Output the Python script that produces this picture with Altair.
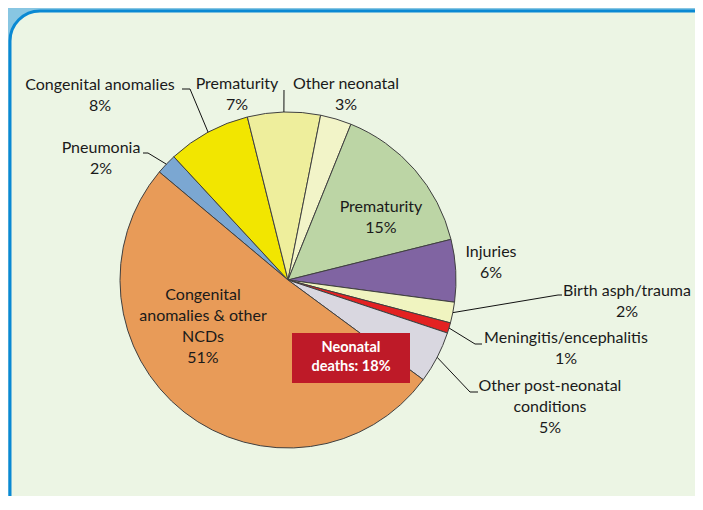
import math
import altair as alt
import pandas as pd

# ---- data (clockwise, starting with Pneumonia) ----
slice_names = ["Pneumonia", "Congenital anomalies", "Prematurity", "Other neonatal",
               "Prematurity", "Injuries", "Birth asph/trauma", "Meningitis/encephalitis",
               "Other post-neonatal conditions", "Congenital anomalies & other NCDs"]
slice_values = [2, 8, 7, 3, 15, 6, 2, 1, 5, 51]
slice_colors = ["#7BA7D2", "#F2E600", "#EEEE9C", "#F2F4C8", "#BCD5A5",
                "#8064A2", "#F0F4C0", "#E32222", "#D9D7E0", "#E89B58"]

# label text lines (one row per line)
label_lines = [
    ["Pneumonia", "2%"],
    ["Congenital anomalies", "8%"],
    ["Prematurity", "7%"],
    ["Other neonatal", "3%"],
    ["Prematurity", "15%"],
    ["Injuries", "6%"],
    ["Birth asph/trauma", "2%"],
    ["Meningitis/encephalitis", "1%"],
    ["Other post-neonatal", "conditions", "5%"],
    ["Congenital", "anomalies & other", "NCDs", "51%"],
]
box_lines = ["Neonatal", "deaths: 18%"]

# ---- layout (pixels, chart coordinates) ----
CX, CY, R = 280, 272, 168
START = math.radians(310)
label_pos = [(93, 140), (92, 77), (229, 76), (338, 76), (373, 199),
             (483, 244), (619, 283), (558, 330), (542, 378), (195, 287)]
line_step = 21
leader_elbow = [(140, 145), (182, 81), (276, 82), None, None,
                None, (550, 287), (467, 336), (462, 384), None]
leader_end = [(135, 145), (174, 81), (276, 82), None, None,
              None, (554, 287), (474, 336), (470, 384), None]
box_rect = (284, 325, 402, 375)

FONT = "Lato"

keys = [f"s{i}" for i in range(len(slice_names))]
df = pd.DataFrame({
    "idx": list(range(len(slice_names))),
    "key": keys,
    "name": slice_names,
    "value": slice_values,
})

# background panel
panel = alt.Chart(pd.DataFrame({"a": [0]})).mark_rect(
    fill="#ECF5E4", stroke="#0A89D3", strokeWidth=3, cornerRadius=30, clip=True
).encode(x=alt.value(2), x2=alt.value(720), y=alt.value(3), y2=alt.value(540))

pie = alt.Chart(df).mark_arc(
    outerRadius=R, stroke="#404040", strokeWidth=1
).encode(
    theta=alt.Theta("value:Q", stack=True,
                    scale=alt.Scale(domain=[0, 100], range=[START, START + 2 * math.pi])),
    order=alt.Order("idx:Q"),
    color=alt.Color("key:N", scale=alt.Scale(domain=keys, range=slice_colors), legend=None),
    x=alt.value(CX), y=alt.value(CY),
)

# leader lines: start point computed from the data (slice mid-angle on the rim)
lead_rows = []
for i, (e, t) in enumerate(zip(leader_elbow, leader_end)):
    if e is None:
        continue
    lead_rows.append({"idx": i, "bx": e[0], "by": e[1], "tx": t[0], "ty": t[1]})
lead_df = df.merge(pd.DataFrame(lead_rows), on="idx", how="left")

lead_base = alt.Chart(lead_df).transform_window(
    cum="sum(value)", sort=[alt.SortField("idx")], frame=[None, 0]
).transform_calculate(
    ang=f"{START} + (datum.cum - datum.value/2)/100*2*PI",
    ex=f"{CX} + {R}*sin(datum.ang)",
    ey=f"{CY} - {R}*cos(datum.ang)",
).transform_filter("isValid(datum.bx)")

seg1 = lead_base.mark_rule(color="#111111", strokeWidth=1).encode(
    x=alt.X("ex:Q", scale=None), y=alt.Y("ey:Q", scale=None),
    x2="bx:Q", y2="by:Q")
seg2 = lead_base.mark_rule(color="#111111", strokeWidth=1).encode(
    x=alt.X("bx:Q", scale=None), y=alt.Y("by:Q", scale=None),
    x2="tx:Q", y2="ty:Q")

# labels
rows = []
for i, lines in enumerate(label_lines):
    x0, y0 = label_pos[i]
    for j, ln in enumerate(lines):
        rows.append({"t": ln, "px": x0, "py": y0 + j * line_step})
labels = alt.Chart(pd.DataFrame(rows)).mark_text(
    font=FONT, fontSize=16, color="#1A1A1A", align="center", baseline="middle"
).encode(x=alt.X("px:Q", scale=None), y=alt.Y("py:Q", scale=None), text="t:N")

box = alt.Chart(pd.DataFrame({"a": [0]})).mark_rect(fill="#BE1A28").encode(
    x=alt.value(box_rect[0]), x2=alt.value(box_rect[2]),
    y=alt.value(box_rect[1]), y2=alt.value(box_rect[3]))
bx_c = (box_rect[0] + box_rect[2]) / 2
box_df = pd.DataFrame({"t": box_lines,
                       "px": [bx_c, bx_c],
                       "py": [box_rect[1] + 15, box_rect[1] + 34]})
box_text = alt.Chart(box_df).mark_text(
    font=FONT, fontSize=14.5, fontWeight="bold", color="white", align="center", baseline="middle"
).encode(x=alt.X("px:Q", scale=None), y=alt.Y("py:Q", scale=None), text="t:N")

chart = alt.layer(panel, pie, seg1, seg2, labels, box, box_text).properties(
    width=687, height=488,
    autosize=alt.AutoSizeParams(type="fit", contains="padding"),
    padding=0,
    background="#88C6E2",
).configure_view(stroke=None)

chart.save("out.html", embed_options={"renderer": "svg", "actions": False})
